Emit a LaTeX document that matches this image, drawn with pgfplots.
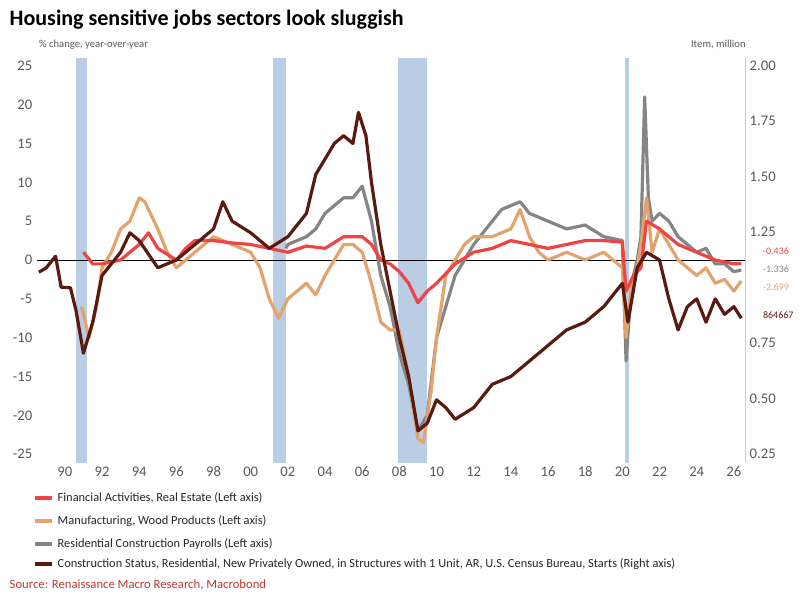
\documentclass[border=0pt]{standalone}
\usepackage{pgfplots}
\pgfplotsset{compat=1.18}
\usepackage{fontspec}
\setmainfont{Carlito}
\definecolor{cred}{HTML}{EE4444}
\definecolor{corg}{HTML}{E2A46C}
\definecolor{cgry}{HTML}{858585}
\definecolor{cdrk}{HTML}{5A1A10}
\definecolor{crec}{HTML}{B9CDE5}
\definecolor{ctxt}{HTML}{595959}
\begin{document}
\begin{tikzpicture}[x=1pt,y=1pt]
\path (-27.75,-106.5) rectangle (572.25,346.5);
\pgfplotsset{every axis/.style={scale only axis, width=531pt, height=303pt, xmin=1988.5, xmax=2026.6, clip=true}}
\begin{axis}[
  ymin=-26, ymax=26, axis x line*=bottom, axis y line*=left,
  axis line style={draw=none}, major tick style={draw=none},
  ytick={-25,-20,...,25}, xtick={1990,1992,...,2026},
  xticklabels={90,92,94,96,98,00,02,04,06,08,10,12,14,16,18,20,22,24,26},
  tick label style={font=\fontsize{11}{12}\selectfont, text=ctxt},
  /pgf/number format/assume math mode=true,
  every axis plot/.append style={line width=2.4pt, line join=round}]
\addplot[fill=crec, draw=none, line width=0] coordinates {(1990.6,-27)(1991.2,-27)(1991.2,27)(1990.6,27)} -- cycle;
\addplot[fill=crec, draw=none, line width=0] coordinates {(2001.2,-27)(2001.9,-27)(2001.9,27)(2001.2,27)} -- cycle;
\addplot[fill=crec, draw=none, line width=0] coordinates {(2007.9,-27)(2009.5,-27)(2009.5,27)(2007.9,27)} -- cycle;
\addplot[fill=crec, draw=none, line width=0] coordinates {(2020.15,-27)(2020.35,-27)(2020.35,27)(2020.15,27)} -- cycle;
\addplot[black, line width=0.5pt] coordinates {(1988.5,0)(2026.6,0)};
% Residential construction payrolls
\addplot[cgry] coordinates {(2001.9,1.5)(2002,2)(2002.5,2.5)(2003,3)(2003.5,4)(2004,6)(2004.5,7)(2005,8)(2005.5,8)(2006,9.5)(2006.5,5)(2007,-2)(2007.5,-6)(2008,-12)(2008.5,-16)(2009,-22)(2009.5,-20)(2010,-10)(2010.5,-6)(2011,-2)(2012,2)(2013,5)(2013.5,6.5)(2014,7)(2014.5,7.5)(2015,6)(2016,5)(2017,4)(2018,4.5)(2019,3)(2020,2.5)(2020.2,-13)(2020.5,-3)(2020.8,0)(2021,3)(2021.2,21)(2021.4,8)(2021.6,5)(2022,6)(2022.5,5)(2023,3)(2023.5,2)(2024,1)(2024.5,1.5)(2025,-0.5)(2025.5,-0.5)(2026,-1.5)(2026.4,-1.3)};
% Wood products
\addplot[corg] coordinates {(1990.9,-6)(1991.3,-10)(1991.7,-6)(1992,-1)(1992.5,1)(1993,4)(1993.5,5)(1994,8)(1994.3,7.5)(1995,4)(1995.5,1)(1996,-1)(1996.5,0)(1997,1)(1997.5,2)(1998,3)(1999,2)(2000,1)(2000.5,-1)(2001,-5)(2001.5,-7.5)(2002,-5)(2002.5,-4)(2003,-3)(2003.5,-4.5)(2004,-2)(2004.5,0)(2005,2)(2005.5,2)(2006,1)(2006.5,-3)(2007,-8)(2007.5,-9)(2008,-9)(2008.5,-15)(2009,-23)(2009.3,-23.5)(2009.7,-17)(2010,-10)(2010.5,-2)(2011,0)(2011.5,2)(2012,3)(2013,3)(2013.5,3.5)(2014,4)(2014.5,6.5)(2015,3)(2015.5,1)(2016,0)(2017,1)(2018,0)(2019,1)(2020,-1)(2020.2,-10)(2020.5,-3)(2020.8,-1)(2021,2)(2021.3,8)(2021.6,1)(2022,4)(2022.5,2)(2023,0)(2023.5,-1)(2024,-2)(2024.5,-1)(2025,-3)(2025.5,-2.5)(2026,-4)(2026.4,-2.7)};
% Financial activities
\addplot[cred] coordinates {(1991,1)(1991.5,-0.5)(1992,-0.5)(1993,0)(1993.5,1)(1994,2)(1994.5,3.5)(1995,1.5)(1996,0)(1996.5,1.5)(1997,2.5)(1998,2.5)(1999,2.2)(2000,2)(2001,1.5)(2002,1)(2003,1.8)(2004,1.5)(2005,3)(2006,3)(2006.5,2)(2007,0)(2007.5,-0.5)(2008,-1.5)(2008.5,-3)(2009,-5.5)(2009.5,-4)(2010,-3)(2011,-0.5)(2012,1)(2013,1.5)(2014,2.5)(2015,2)(2016,1.5)(2017,2)(2018,2.5)(2019,2.5)(2020,2.3)(2020.2,-4)(2020.6,-2)(2021,-1)(2021.3,5)(2022,4)(2022.5,3)(2023,2)(2024,1)(2025,0)(2026,-0.5)(2026.4,-0.436)};
\end{axis}
\begin{axis}[
  ymin=0.215, ymax=2.035, axis x line=none, axis y line*=right,
  axis line style={draw=gray!40}, major tick style={draw=none},
  ytick={0.25,0.5,0.75,1.25,1.5,1.75,2.0}, yticklabel style={/pgf/number format/.cd,fixed,fixed zerofill,precision=2},
  tick label style={font=\fontsize{11}{12}\selectfont, text=ctxt},
  /pgf/number format/assume math mode=true]
\addplot[cdrk, line width=2.4pt, line join=round] coordinates {(1988.6,1.07)(1989,1.09)(1989.5,1.142)(1989.8,1.0025)(1990.3,1.0)(1990.6,0.897)(1991,0.705)(1991.5,0.845)(1992,1.055)(1993,1.16)(1993.5,1.2475)(1994,1.2125)(1995,1.09)(1996,1.125)(1997,1.195)(1998,1.265)(1998.5,1.3875)(1999,1.3)(2000,1.2475)(2001,1.1775)(2002,1.23)(2003,1.335)(2003.5,1.51)(2004,1.58)(2004.5,1.65)(2005,1.685)(2005.5,1.65)(2005.8,1.79)(2006.2,1.685)(2006.5,1.475)(2007,1.195)(2007.5,0.985)(2008,0.775)(2008.5,0.6)(2009,0.355)(2009.5,0.39)(2010,0.495)(2010.5,0.46)(2011,0.4075)(2012,0.46)(2013,0.565)(2014,0.6)(2015,0.67)(2016,0.74)(2017,0.81)(2018,0.845)(2019,0.915)(2020,1.02)(2020.3,0.845)(2020.8,1.09)(2021.3,1.16)(2022,1.125)(2022.5,0.95)(2023,0.81)(2023.5,0.915)(2024,0.95)(2024.5,0.845)(2025,0.95)(2025.5,0.88)(2026,0.915)(2026.4,0.8625)};
\end{axis}
\node[anchor=west, font=\fontsize{16.5}{18}\selectfont\bfseries] at (-24,331.5) {Housing sensitive jobs sectors look sluggish};
\node[anchor=west, font=\fontsize{8}{9}\selectfont, text=ctxt] at (-2,313) {\% change, year-over-year};
\node[anchor=east, font=\fontsize{8}{9}\selectfont, text=ctxt] at (535,313) {Item, million};
\node[anchor=west, font=\fontsize{7.5}{8}\selectfont, text=cred] at (541,158.25) {-0.436};
\node[anchor=west, font=\fontsize{7.5}{8}\selectfont, text=cgry] at (541,144.75) {-1.336};
\node[anchor=west, font=\fontsize{7.5}{8}\selectfont, text=corg] at (541,131.25) {-2.699};
\node[anchor=west, font=\fontsize{7.5}{8}\selectfont, text=cdrk] at (541,110.25) {864667};
\foreach \y/\c/\t in {-27/cred/{Financial Activities, Real Estate (Left axis)},-44.25/corg/{Manufacturing, Wood Products (Left axis)},-61.5/cgry/{Residential Construction Payrolls (Left axis)},-76.5/cdrk/{Construction Status, Residential, New Privately Owned, in Structures with 1 Unit, AR, U.S. Census Bureau, Starts (Right axis)}}{
  \draw[\c, line width=2.4pt] (-1.5,\y) -- (11.25,\y);
  \node[anchor=west, font=\fontsize{9.3}{10}\selectfont, text=black!85] at (12,\y) {\t};
}
\node[anchor=west, font=\fontsize{9.5}{10}\selectfont, text=cred!80!black] at (-24,-92.25) {Source: Renaissance Macro Research, Macrobond};
\end{tikzpicture}
\end{document}
